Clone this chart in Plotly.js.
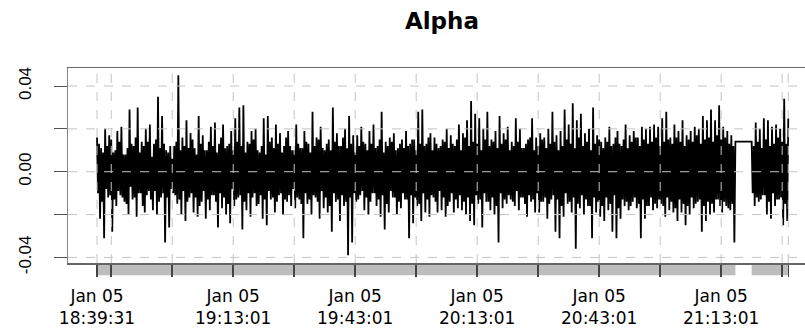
<!DOCTYPE html>
<html>
<head>
<meta charset="utf-8">
<script src="https://cdn.plot.ly/plotly-3.0.1.min.js"></script>
<style>html,body{margin:0;padding:0;background:#fff}#chart{width:805px;height:330px}</style>
</head>
<body>
<div id="chart"></div>
<script>
// ---------------- data ----------------
const chartTitle = 'Alpha';
const seriesDate = '2024-01-05';
const seg1Start = '18:39:31';
const seg2Start = '21:20:31';
const stepSeconds = 15;

const seg1Values = [
.016,-.010,.013,-.022, .011,-.014,.009,-.031, .020,-.008,.012,-.012, .017,-.011,.015,-.028,
.009,-.013,.010,-.016, .019,-.009,.014,-.011, .021,-.012,.008,-.014, .008,-.015,.011,-.020,
.029,-.007,.013,-.013, .012,-.012,.016,-.021, .030,-.010,.009,-.010, .014,-.016,.012,-.019,
.020,-.011,.014,-.009, .022,-.013,.007,-.018, .013,-.009,.015,-.020, .035,-.014,.011,-.012,
.026,-.010,.013,-.033, .010,-.012,.009,-.026, .012,-.008,.006,-.010, .012,-.011,.014,-.015,
.045,-.013,.010,-.020, .016,-.009,.012,-.023, .024,-.014,.011,-.012, .018,-.010,.015,-.019,
.011,-.012,.008,-.021, .026,-.016,.013,-.014, .017,-.009,.010,-.022, .010,-.013,.014,-.018,
.021,-.011,.012,-.011, .023,-.014,.009,-.026, .013,-.010,.016,-.017, .022,-.012,.011,-.020,
.012,-.015,.013,-.024, .019,-.008,.010,-.016, .025,-.013,.014,-.012, .030,-.011,.012,-.027,
.031,-.014,.009,-.018, .014,-.010,.013,-.021, .019,-.012,.015,-.010, .020,-.016,.010,-.015,
.009,-.011,.012,-.022, .025,-.013,.008,-.025, .026,-.009,.014,-.013, .016,-.012,.011,-.019,
.022,-.014,.013,-.011, .018,-.010,.009,-.020, .012,-.013,.016,-.014, .019,-.011,.012,-.016,
.010,-.008,.010,-.017, .022,-.012,.013,-.013, .011,-.015,.011,-.031, .019,-.010,.014,-.015,
.013,-.013,.009,-.020, .028,-.011,.012,-.012, .016,-.014,.015,-.022, .021,-.009,.011,-.017,
.010,-.012,.013,-.019, .015,-.016,.010,-.028, .030,-.010,.014,-.014, .018,-.013,.012,-.023,
.012,-.011,.016,-.016, .020,-.014,.011,-.039, .026,-.012,.013,-.033, .017,-.010,.009,-.014,
.017,-.013,.012,-.011, .021,-.009,.014,-.018, .013,-.012,.010,-.020, .019,-.014,.013,-.010,
.022,-.010,.011,-.016, .012,-.013,.015,-.021, .028,-.011,.009,-.027, .014,-.015,.012,-.019,
.016,-.009,.014,-.012, .018,-.012,.010,-.020, .011,-.014,.013,-.017, .015,-.010,.011,-.013,
.019,-.013,.012,-.031, .013,-.011,.015,-.024, .015,-.012,.010,-.016, .028,-.015,.013,-.023,
.029,-.010,.012,-.019, .013,-.013,.016,-.021, .018,-.011,.010,-.012, .016,-.014,.013,-.019,
.011,-.009,.012,-.018, .015,-.012,.014,-.021, .020,-.016,.011,-.014, .017,-.010,.013,-.019,
.012,-.013,.015,-.017, .022,-.011,.010,-.018, .018,-.014,.016,-.020, .024,-.012,.012,-.023,
.033,-.015,.014,-.025, .027,-.011,.013,-.015, .025,-.013,.010,-.026, .020,-.010,.015,-.014,
.028,-.014,.012,-.018, .015,-.012,.014,-.020, .019,-.016,.011,-.033, .026,-.010,.013,-.017,
.018,-.013,.015,-.015, .021,-.011,.010,-.013, .014,-.014,.012,-.016, .025,-.009,.014,-.018,
.020,-.012,.011,-.012, .011,-.015,.013,-.021, .015,-.011,.016,-.014, .025,-.013,.010,-.019,
.016,-.010,.012,-.019, .018,-.014,.015,-.014, .016,-.012,.011,-.022, .020,-.015,.013,-.013,
.028,-.011,.014,-.028, .017,-.013,.010,-.031, .019,-.016,.012,-.021, .029,-.010,.015,-.015,
.022,-.014,.013,-.019, .032,-.012,.011,-.036, .024,-.015,.016,-.017, .027,-.011,.012,-.020,
.018,-.013,.014,-.016, .020,-.016,.010,-.031, .030,-.012,.013,-.019, .017,-.014,.015,-.021,
.014,-.016,.011,-.023, .016,-.012,.014,-.018, .021,-.015,.012,-.028, .013,-.011,.016,-.031,
.019,-.017,.013,-.022, .012,-.013,.015,-.016, .022,-.014,.011,-.018, .017,-.016,.014,-.014,
.019,-.012,.016,-.017, .016,-.015,.012,-.031, .021,-.013,.015,-.022, .020,-.016,.013,-.016,
.021,-.012,.014,-.018, .022,-.015,.016,-.017, .021,-.013,.012,-.015, .025,-.016,.014,-.021,
.028,-.012,.015,-.018, .016,-.014,.013,-.019, .022,-.017,.016,-.023, .019,-.013,.014,-.019,
.024,-.015,.012,-.025, .017,-.016,.015,-.020, .019,-.012,.014,-.017, .021,-.015,.017,-.014,
.020,-.013,.013,-.028, .026,-.016,.015,-.023, .024,-.014,.016,-.020, .029,-.015,.014,-.019,
.024,-.013,.017,-.013, .031,-.016,.015,-.019, .021,-.014,.016,-.016, .019,-.017,.013,-.018,
.017,-.015,.012,-.033, .014
];
const seg2Values = [
.014,-.010,.012,-.016, .023,-.012,.014,-.014, .020,-.013,.011,-.011, .025,-.011,.015,-.020,
.024,-.014,.012,-.022, .021,-.010,.013,-.016, .022,-.013,.016,-.013, .020,-.012,.014,-.025,
.034,-.015,.013,-.023, .025
];

const xTickTimes = ['18:39:31','18:43:01','18:58:01','19:13:01','19:28:01','19:43:01','19:58:01',
                    '20:13:01','20:28:01','20:43:01','20:58:01','21:13:01','21:28:01','21:29:31'];
const xLabelTimes = ['18:39:31','19:13:01','19:43:01','20:13:01','20:43:01','21:13:01'];
const xLabelDay = 'Jan 05';
const yTickValues = [-0.04,-0.02,0,0.02,0.04];
const yTickLabels = ['-0.04','','0.00','','0.04'];
const xRange = ['18:32:23','21:33:38'];
const yRange = [-0.0426,0.0484];

// ---------------- build ----------------
function toMs(t){ return Date.parse(seriesDate + 'T' + t + 'Z'); }
function fmt(ms){ return new Date(ms).toISOString().slice(0,19).replace('T',' '); }
function segTimes(start, vals){ const s = toMs(start); return vals.map((v,i)=>fmt(s + i*stepSeconds*1000)); }

const t1 = segTimes(seg1Start, seg1Values);
const t2 = segTimes(seg2Start, seg2Values);

const trace = {
  x: t1.concat(t2),
  y: seg1Values.concat(seg2Values),
  type: 'scatter',
  mode: 'lines',
  line: {color: '#000000', width: 1.8, simplify: false},
  hoverinfo: 'skip'
};

const tickvals = xTickTimes.map(t=>fmt(toMs(t)));
const ticktext = xTickTimes.map(t=> xLabelTimes.includes(t) ? (xLabelDay + '<br>' + t) : '');

const shapes = [];
const gridStyle = {color:'#c4c4c4', width:1, dash:'dash'};
tickvals.forEach(v=>{
  shapes.push({type:'line', xref:'x', yref:'paper', x0:v, x1:v, y0:0, y1:1, line:gridStyle, layer:'above'});
});
yTickValues.forEach(v=>{
  shapes.push({type:'line', xref:'paper', yref:'y', x0:0, x1:1, y0:v, y1:v, line:gridStyle, layer:'above'});
});
[[t1[0], t1[t1.length-1]], [t2[0], t2[t2.length-1]]].forEach(([a,b])=>{
  shapes.push({type:'rect', xref:'x', yref:'paper', x0:a, x1:b, y0:-0.063, y1:-0.004,
    fillcolor:'#bdbdbd', line:{width:0}, layer:'below'});
});

const layout = {
  width: 805, height: 330,
  margin: {l:68, r:0, t:68, b:67},
  paper_bgcolor:'#ffffff', plot_bgcolor:'#ffffff',
  showlegend:false,
  title: {text:'<b>' + chartTitle + '</b>', font:{family:'DejaVu Sans', size:23, color:'#000'},
          xref:'container', x:0.549, xanchor:'center', yref:'container', y:0.96, yanchor:'top'},
  xaxis: {
    type:'date', range: xRange.map(t=>fmt(toMs(t))),
    tickmode:'array', tickvals: tickvals, ticktext: ticktext,
    ticks:'outside', ticklen:12, tickwidth:1.5, tickcolor:'#444',
    tickfont:{family:'DejaVu Sans', size:17, color:'#000'},
    ticklabelstandoff: 5,
    showgrid:false, zeroline:false,
    showline:true, linecolor:'#666', linewidth:1.5, mirror:true
  },
  yaxis: {
    range: yRange,
    tickmode:'array', tickvals: yTickValues, ticktext: yTickLabels,
    ticks:'outside', ticklen:13, tickwidth:1, tickcolor:'#555',
    tickangle:-90,
    tickfont:{family:'Liberation Sans', size:17, color:'#000'},
    ticklabelstandoff: 16,
    showgrid:false, zeroline:false,
    showline:true, linecolor:'#888', linewidth:1
  },
  shapes: shapes
};

Plotly.newPlot('chart', [trace], layout, {staticPlot:true, displayModeBar:false});
</script>
</body>
</html>
